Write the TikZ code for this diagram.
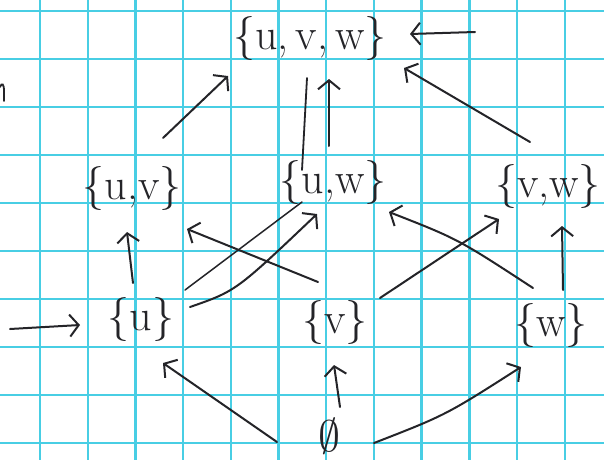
\documentclass[tikz,border=0pt]{standalone}
\usetikzlibrary{arrows.meta}
\definecolor{gridcyan}{RGB}{72,206,228}
\definecolor{ink}{RGB}{36,36,40}
\begin{document}
\begin{tikzpicture}[x=1pt,y=-1pt,
  gridline/.style={draw=gridcyan,line width=2.4pt},
  setlabel/.style={inner sep=0pt,text=ink,font=\fontsize{44}{50}\selectfont},
  edge/.style={draw=ink,line width=2pt,line cap=round,
    -{Straight Barb[length=9pt,width=22pt,line width=2pt]}},
  plainedge/.style={draw=ink,line width=1.8pt,line cap=round}]
\useasboundingbox (0,0) rectangle (604,460);
\fill[white] (0,0) rectangle (604,460);
% graph paper
\foreach \i in {0,...,11} \draw[gridline] ({40+47.7*\i},0) -- ({40+47.7*\i},460);
\foreach \j in {0,...,9} \draw[gridline] (0,{11+48*\j}) -- (604,{11+48*\j});
% stray letter fragment at the left edge
\draw[plainedge] (0,87) .. controls (2,82) and (4,84) .. (4,91) -- (4,101);
% sets
\node[setlabel] (uvw) at (310,38) {\{u,\,v,\,w\}};
\node[setlabel] (uv) at (132,188) {\{u,v\}};
\node[setlabel] (uw) at (333,182) {\{u,w\}};
\node[setlabel] (vw) at (548,186) {\{v,w\}};
\node[setlabel] (u) at (141,319) {\{u\}};
\node[setlabel] (v) at (335,322) {\{v\}};
\node[setlabel] (w) at (551,325) {\{w\}};
\node[inner sep=0pt,text=ink] (empty) at (329,436) {\scalebox{4.4}{$\emptyset$}};
% connector end points
\coordinate (uvA) at (163,138);   \coordinate (uvwA) at (228,76);
\coordinate (uwA) at (329,146);   \coordinate (uvwB) at (329,79);
\coordinate (uwB) at (302,170);   \coordinate (uvwC) at (307,78);
\coordinate (vwA) at (530,142);   \coordinate (uvwD) at (404,68);
\coordinate (inR) at (475,32);    \coordinate (uvwE) at (410,34);
\coordinate (inL) at (10,329);    \coordinate (uA) at (80,325);
\coordinate (uB) at (133,283);    \coordinate (uvB) at (127,232);
\coordinate (uC) at (185,290);    \coordinate (uwC) at (302,202);
\coordinate (uD) at (190,307);    \coordinate (uwD) at (317,214);
\coordinate (vA) at (318,282);    \coordinate (uvC) at (187,229);
\coordinate (wA) at (533,288);    \coordinate (uwE) at (389,212);
\coordinate (vB) at (380,298);    \coordinate (vwB) at (499,219);
\coordinate (wB) at (563,290);    \coordinate (vwC) at (562,226);
\coordinate (eA) at (277,442);    \coordinate (uE) at (163,363);
\coordinate (eB) at (340,407);    \coordinate (vC) at (334,365);
\coordinate (eC) at (374,443);    \coordinate (wC) at (521,367);
% connectors
\draw[edge] (uvA) -- (uvwA);
\draw[edge] (uwA) -- (uvwB);
\draw[plainedge] (uwB) -- (uvwC);
\draw[edge] (vwA) -- (uvwD);
\draw[edge] (inR) -- (uvwE);
\draw[edge] (inL) -- (uA);
\draw[edge] (uB) -- (uvB);
\draw[plainedge,line width=1.5pt] (uC) -- (uwC);
\draw[edge] (uD) .. controls (236,291) .. (uwD);
\draw[edge] (vA) -- (uvC);
\draw[edge] (wA) .. controls (458,239) .. (uwE);
\draw[edge] (vB) -- (vwB);
\draw[edge] (wB) -- (vwC);
\draw[edge] (eA) -- (uE);
\draw[edge] (eB) -- (vC);
\draw[edge] (eC) .. controls (446,415) .. (wC);
\end{tikzpicture}
\end{document}
